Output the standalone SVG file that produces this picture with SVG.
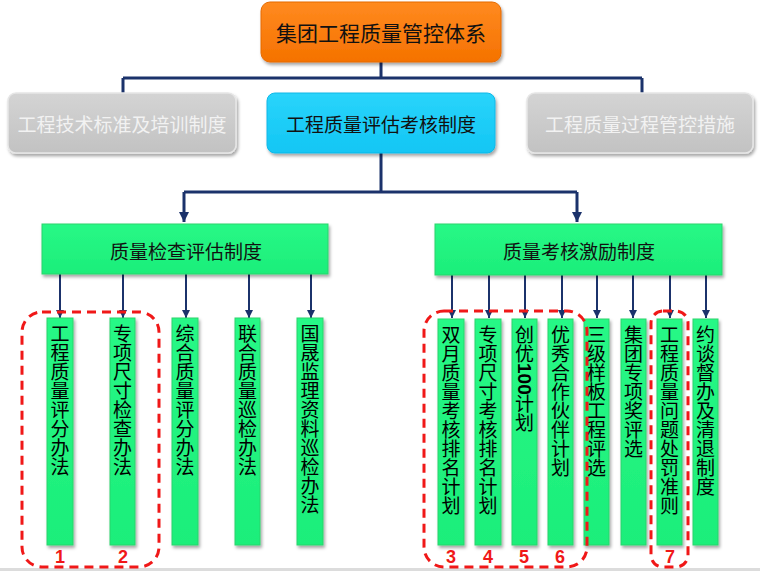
<svg xmlns="http://www.w3.org/2000/svg" width="760" height="571" viewBox="0 0 760 571">
<style>
.cn{font-family:"Noto Sans CJK SC","Liberation Sans",sans-serif;}
.t{font-size:19px;text-anchor:middle;dominant-baseline:central;}
.v{font-size:19px;writing-mode:vertical-rl;fill:#000;}
.bar{fill:url(#gG);stroke:#2bd46c;stroke-width:1;}
.ln{stroke:#1b326b;stroke-width:3;fill:none;}
.sl{stroke:#1b326b;stroke-width:2;fill:none;}
.dash{fill:none;stroke:#f01818;stroke-width:3;stroke-dasharray:9 6;}
.num{font-family:"Liberation Sans",Arial,sans-serif;font-weight:bold;font-size:18px;fill:#f01818;text-anchor:middle;}
</style>
<defs>
<linearGradient id="gO" x1="0" y1="0" x2="0" y2="1"><stop offset="0" stop-color="#ff8a20"/><stop offset="1" stop-color="#f57200"/></linearGradient>
<linearGradient id="gB" x1="0" y1="0" x2="0" y2="1"><stop offset="0" stop-color="#2ad4fb"/><stop offset="1" stop-color="#12c6f4"/></linearGradient>
<linearGradient id="gY" x1="0" y1="0" x2="0" y2="1"><stop offset="0" stop-color="#d4d4d4"/><stop offset="1" stop-color="#c2c2c2"/></linearGradient>
<linearGradient id="gG" x1="0" y1="0" x2="0" y2="1"><stop offset="0" stop-color="#28f886"/><stop offset="1" stop-color="#1cee7a"/></linearGradient>
<filter id="sh" x="-10%" y="-10%" width="130%" height="140%"><feDropShadow dx="1.5" dy="2.5" stdDeviation="1.8" flood-color="#000" flood-opacity="0.35"/></filter>
<marker id="aB" markerUnits="userSpaceOnUse" markerWidth="12" markerHeight="12" refX="6" refY="10" orient="auto-start-reverse" viewBox="0 0 12 12"><path d="M1,2 L11,2 L6,11 Z" fill="#1b326b" transform="rotate(-90 6 6)"/></marker>
<marker id="aS" markerUnits="userSpaceOnUse" markerWidth="10" markerHeight="10" refX="9" refY="5" orient="auto" viewBox="0 0 10 10"><path d="M1,1 L9,5 L1,9 Z" fill="#1b326b"/></marker>
<marker id="aL" markerUnits="userSpaceOnUse" markerWidth="12" markerHeight="12" refX="11" refY="6" orient="auto" viewBox="0 0 12 12"><path d="M1,1 L11,6 L1,11 Z" fill="#1b326b"/></marker>
</defs>
<rect width="760" height="571" fill="#fff"/>
<rect x="0" y="568" width="760" height="3" fill="#dcdcdc"/>

<g id="connectors">
<path class="ln" d="M381,62 V78 M123,78 H642 M123,78 V93 M642,78 V93"/>
<path class="ln" d="M381,153 V192 M184,192 H577"/>
<path class="ln" d="M184,192 V222" marker-end="url(#aL)"/>
<path class="ln" d="M577,192 V222" marker-end="url(#aL)"/>
<g class="sl">
<path d="M60,274 V318" marker-end="url(#aS)"/>
<path d="M123,274 V318" marker-end="url(#aS)"/>
<path d="M186,274 V318" marker-end="url(#aS)"/>
<path d="M249,274 V318" marker-end="url(#aS)"/>
<path d="M311,274 V318" marker-end="url(#aS)"/>
<path d="M452,275 V318" marker-end="url(#aS)"/>
<path d="M489,275 V318" marker-end="url(#aS)"/>
<path d="M525,275 V318" marker-end="url(#aS)"/>
<path d="M562,275 V318" marker-end="url(#aS)"/>
<path d="M597,275 V318" marker-end="url(#aS)"/>
<path d="M633,275 V318" marker-end="url(#aS)"/>
<path d="M670,275 V318" marker-end="url(#aS)"/>
<path d="M706,275 V318" marker-end="url(#aS)"/>
</g>
</g>

<g id="root">
<rect x="261" y="2" width="240" height="60" rx="9" fill="url(#gO)" stroke="#e56a00" stroke-width="1" filter="url(#sh)"/>
<text class="cn t" x="381" y="32" font-size="21" style="font-size:21px" fill="#111">集团工程质量管控体系</text>
</g>
<g id="n-standard">
<rect x="8" y="93" width="228" height="60" rx="8" fill="url(#gY)" stroke="#e6e6e6" stroke-width="1.5" filter="url(#sh)"/>
<text class="cn t" x="122" y="123" fill="#f2f2f2">工程技术标准及培训制度</text>
</g>
<g id="n-assess">
<rect x="267" y="93" width="228" height="60" rx="8" fill="url(#gB)" stroke="#10b8e8" stroke-width="1" filter="url(#sh)"/>
<text class="cn t" x="381" y="123" fill="#111">工程质量评估考核制度</text>
</g>
<g id="n-process">
<rect x="527" y="93" width="226" height="60" rx="8" fill="url(#gY)" stroke="#e6e6e6" stroke-width="1.5" filter="url(#sh)"/>
<text class="cn t" x="640" y="123" fill="#f2f2f2">工程质量过程管控措施</text>
</g>
<g id="n-check">
<rect x="42" y="224" width="286" height="50" fill="url(#gG)" stroke="#2bd46c" stroke-width="1" filter="url(#sh)"/>
<text class="cn t" x="186" y="250" fill="#111">质量检查评估制度</text>
</g>
<g id="n-incent">
<rect x="435" y="224" width="287" height="51" fill="url(#gG)" stroke="#2bd46c" stroke-width="1" filter="url(#sh)"/>
<text class="cn t" x="579" y="250" fill="#111">质量考核激励制度</text>
</g>

<g id="c1"><rect class="bar" x="47" y="318" width="26" height="227" filter="url(#sh)"/><text class="cn v" x="60" y="324">工程质量评分办法</text></g>
<g id="c2"><rect class="bar" x="110" y="318" width="25" height="227" filter="url(#sh)"/><text class="cn v" x="122.5" y="324">专项尺寸检查办法</text></g>
<g id="c3"><rect class="bar" x="172" y="318" width="26" height="227" filter="url(#sh)"/><text class="cn v" x="185" y="324">综合质量评分办法</text></g>
<g id="c4"><rect class="bar" x="235" y="318" width="25" height="227" filter="url(#sh)"/><text class="cn v" x="247.5" y="324">联合质量巡检办法</text></g>
<g id="c5"><rect class="bar" x="297" y="318" width="26" height="227" filter="url(#sh)"/><text class="cn v" x="310" y="324">国晟监理资料巡检办法</text></g>

<g id="c6"><rect class="bar" x="438" y="319" width="26" height="226" filter="url(#sh)"/><text class="cn v" x="451" y="325">双月质量考核排名计划</text></g>
<g id="c7"><rect class="bar" x="475" y="319" width="26" height="226" filter="url(#sh)"/><text class="cn v" x="488" y="325">专项尺寸考核排名计划</text></g>
<g id="c8"><rect class="bar" x="512" y="319" width="25" height="226" filter="url(#sh)"/><text class="cn v" x="524.5" y="325">创优<tspan font-family="Liberation Sans,Arial,sans-serif" font-weight="bold">100</tspan>计划</text></g>
<g id="c9"><rect class="bar" x="548" y="319" width="25" height="226" filter="url(#sh)"/><text class="cn v" x="560.5" y="325">优秀合作伙伴计划</text></g>
<g id="c10"><rect class="bar" x="584" y="319" width="25" height="226" filter="url(#sh)"/><text class="cn v" x="596.5" y="325">三级样板工程评选</text></g>
<g id="c11"><rect class="bar" x="621" y="319" width="25" height="226" filter="url(#sh)"/><text class="cn v" x="633.5" y="325">集团专项奖评选</text></g>
<g id="c12"><rect class="bar" x="657" y="319" width="25" height="226" filter="url(#sh)"/><text class="cn v" x="669.5" y="325">工程质量问题处罚准则</text></g>
<g id="c13"><rect class="bar" x="693" y="319" width="25" height="226" filter="url(#sh)"/><text class="cn v" x="705.5" y="325">约谈督办及清退制度</text></g>

<g id="highlights">
<rect class="dash" x="22" y="312" width="137" height="255" rx="20"/>
<rect class="dash" x="424" y="311" width="163" height="256" rx="20"/>
<rect class="dash" x="651" y="311" width="37" height="256" rx="12"/>
<text class="num" x="60" y="563">1</text>
<text class="num" x="123" y="563">2</text>
<text class="num" x="451" y="563">3</text>
<text class="num" x="488" y="563">4</text>
<text class="num" x="524" y="563">5</text>
<text class="num" x="560" y="563">6</text>
<text class="num" x="670" y="563">7</text>
</g>
</svg>
